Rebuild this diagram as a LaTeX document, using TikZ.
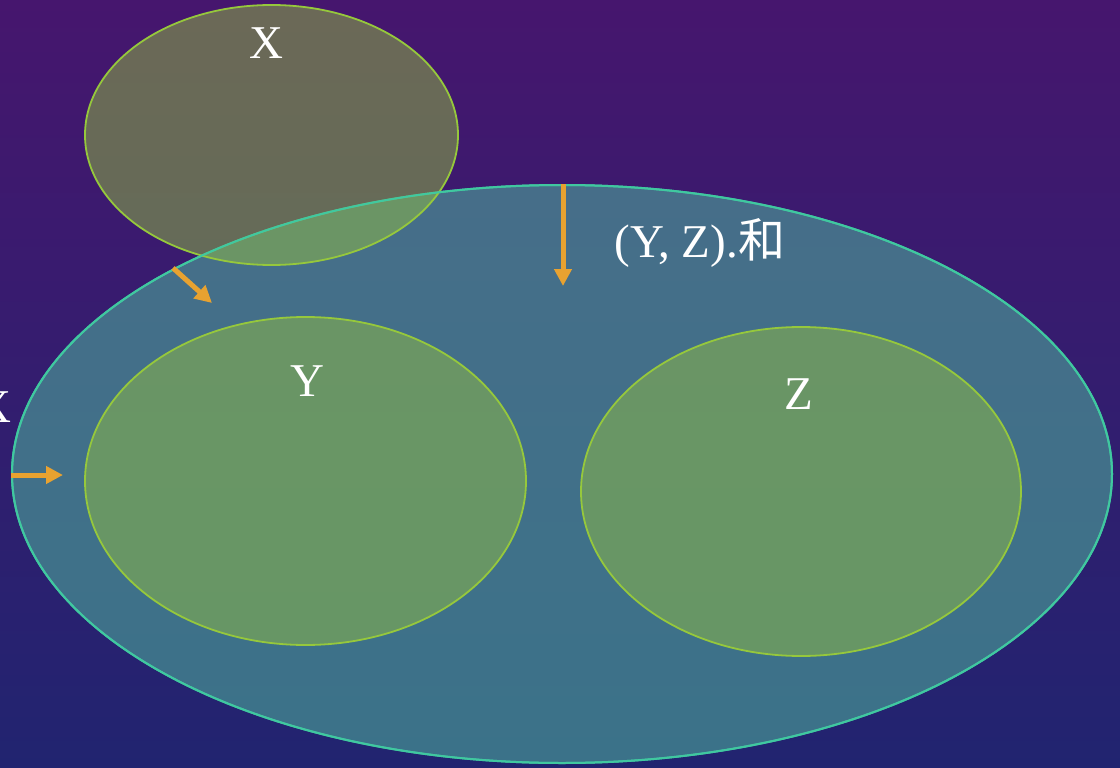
\documentclass[tikz,border=0pt]{standalone}
\usepackage{fontspec}
\setmainfont{Liberation Serif}
\newfontfamily\cjkfont{Noto Sans CJK SC}
\usetikzlibrary{arrows.meta}
\definecolor{bgtop}{RGB}{70,22,110}
\definecolor{bgbot}{RGB}{33,36,112}
\definecolor{bigfill}{RGB}{77,167,155}
\definecolor{bigline}{RGB}{64,200,160}
\definecolor{setfill}{RGB}{145,188,66}
\definecolor{setline}{RGB}{150,200,60}
\definecolor{arr}{RGB}{232,162,48}
\tikzset{
  bigset/.style={fill=bigfill,fill opacity=0.6,draw=bigline,draw opacity=1,line width=2pt},
  subset/.style={fill=setfill,fill opacity=0.5,draw=setline,draw opacity=1,line width=1.8pt},
  lbl/.style={text=white,font=\fontsize{47}{55}\selectfont,anchor=base,inner sep=0pt},
  arrline/.style={draw=arr,line width=5pt,-{Triangle[length=17pt,width=17pt]}}
}
\begin{document}
\begin{tikzpicture}[x=1pt,y=-1pt]
\useasboundingbox (0,0) rectangle (1120,768);
\clip (0,0) rectangle (1120,768);
\shade[top color=bgtop,bottom color=bgbot] (0,0) rectangle (1120,768);
% sets
\path[bigset] (562,474) ellipse [x radius=550,y radius=289];
\path[subset] (271.5,135) ellipse [x radius=186.5,y radius=130];
\draw[bigline,line width=2pt] (562,474) ellipse [x radius=550,y radius=289];
\path[subset] (305.5,481) ellipse [x radius=220.5,y radius=164];
\path[subset] (801,491.5) ellipse [x radius=220,y radius=164.5];
% labels
\node[lbl] (lx) at (266,59) {X};
\node[lbl] (ly) at (307,396) {Y};
\node[lbl] (lz) at (799,409) {Z};
\node[lbl] (lyz) at (700,257) {(Y, Z).{\cjkfont 和}};
\node[lbl] (lxl) at (-6,422) {X};
% arrows
\coordinate (a1s) at (563,184);
\coordinate (a1e) at (563,286);
\coordinate (a2s) at (173,268);
\coordinate (a2e) at (212,303);
\coordinate (a3s) at (11,475);
\coordinate (a3e) at (63,475);
\draw[arrline] (a1s) -- (a1e);
\draw[arrline] (a2s) -- (a2e);
\draw[arrline] (a3s) -- (a3e);
\end{tikzpicture}
\end{document}
